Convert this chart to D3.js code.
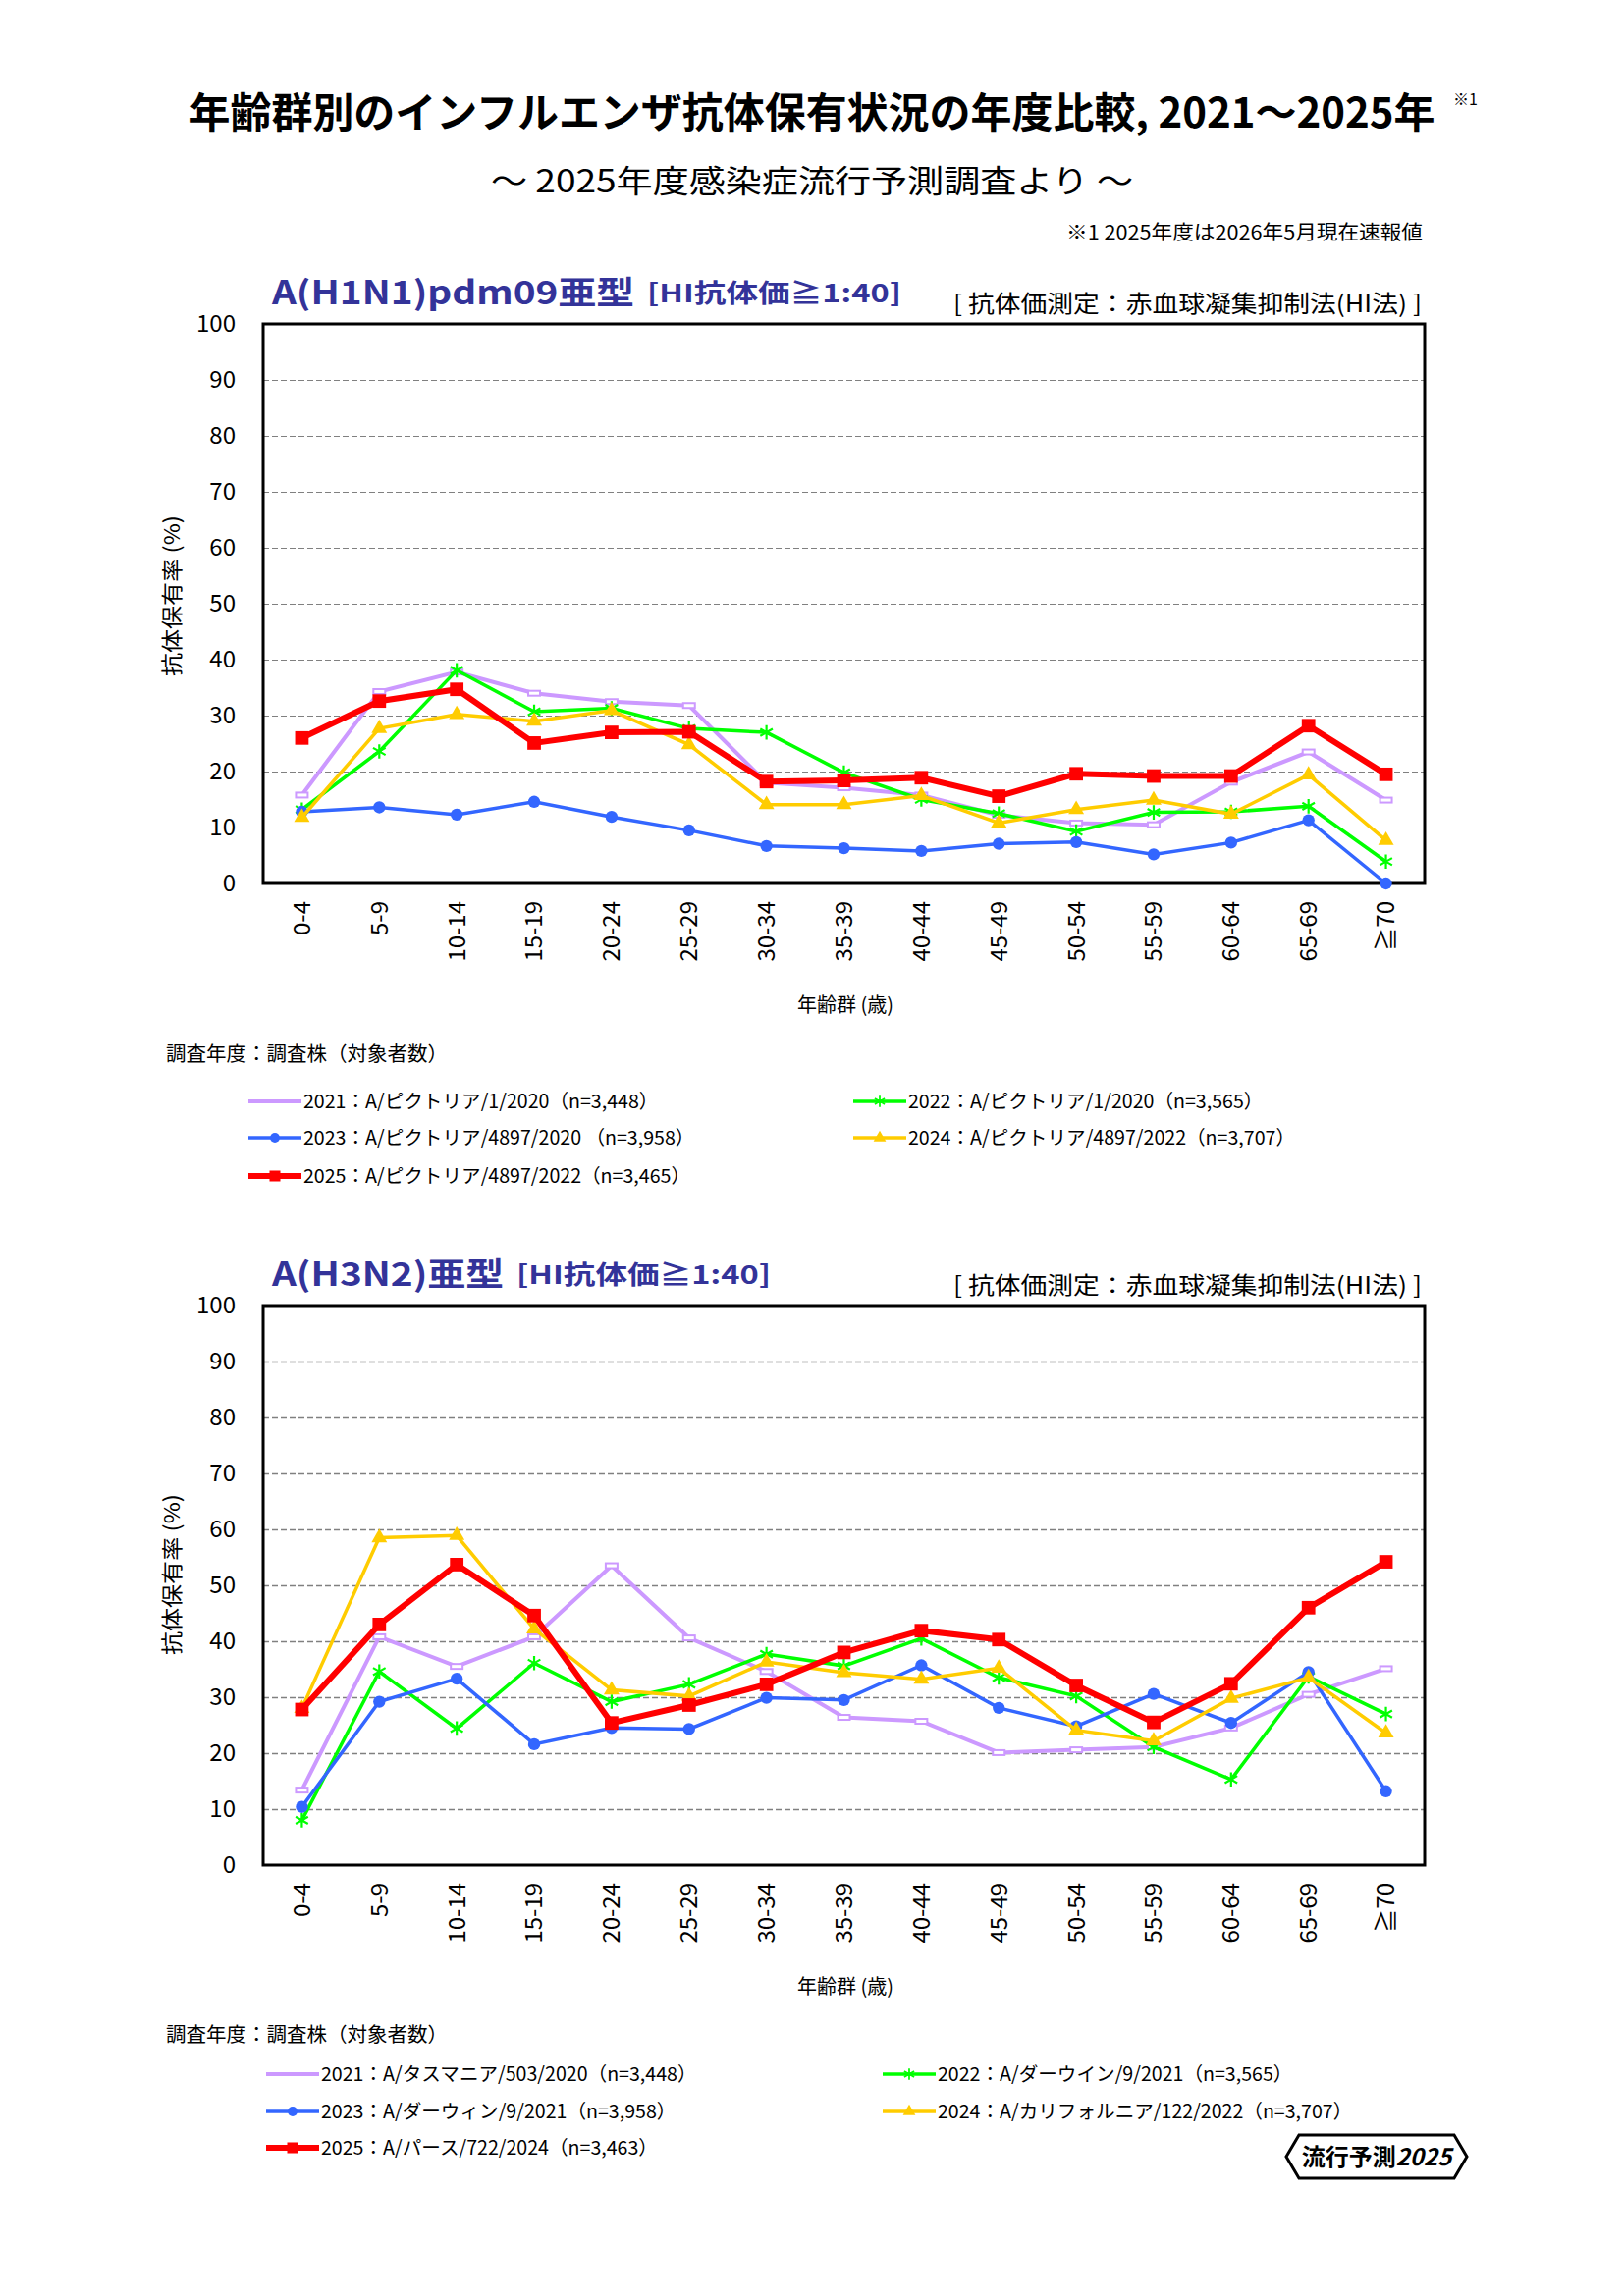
<!DOCTYPE html>
<html>
<head>
<meta charset="utf-8">
<script src="https://cdn.jsdelivr.net/npm/d3@7"></script>
<style>
  body { margin: 0; background: #fff; }
  text { font-family: "Noto Sans CJK JP", sans-serif; }
</style>
</head>
<body>
<div class="canvas"></div>
<script>
// age groups on the x axis
const categories = ["0-4","5-9","10-14","15-19","20-24","25-29","30-34","35-39","40-44","45-49","50-54","55-59","60-64","65-69","≧70"];
const yTicks = [0,10,20,30,40,50,60,70,80,90,100];

// A(H1N1)pdm09 antibody rates (%)
const h1_2021 = [15.8, 34.3, 37.8, 34.0, 32.5, 31.8, 18.0, 17.1, 15.8, 12.2, 10.8, 10.5, 18.1, 23.5, 14.9];
const h1_2022 = [13.2, 23.6, 38.1, 30.7, 31.3, 27.7, 27.0, 19.8, 15.0, 12.5, 9.3, 12.7, 12.8, 13.8, 3.9];
const h1_2023 = [12.8, 13.6, 12.3, 14.6, 11.9, 9.5, 6.7, 6.3, 5.8, 7.1, 7.4, 5.2, 7.3, 11.3, 0.0];
const h1_2024 = [11.8, 27.7, 30.2, 29.0, 30.9, 24.8, 14.1, 14.1, 15.7, 10.8, 13.2, 14.9, 12.4, 19.4, 7.7];
const h1_2025 = [26.0, 32.6, 34.7, 25.1, 27.0, 27.1, 18.2, 18.4, 18.9, 15.6, 19.6, 19.2, 19.2, 28.2, 19.5];

// A(H3N2) antibody rates (%)
const h3_2021 = [13.4, 40.8, 35.5, 40.8, 53.5, 40.6, 34.6, 26.4, 25.7, 20.1, 20.6, 21.1, 24.5, 30.5, 35.1];
const h3_2022 = [8.0, 34.6, 24.4, 36.1, 29.2, 32.3, 37.7, 35.6, 40.5, 33.5, 30.2, 21.1, 15.3, 33.7, 27.0];
const h3_2023 = [10.4, 29.2, 33.3, 21.6, 24.5, 24.3, 29.9, 29.5, 35.7, 28.1, 24.8, 30.6, 25.4, 34.5, 13.2];
const h3_2024 = [28.0, 58.5, 58.9, 42.2, 31.3, 30.2, 36.3, 34.4, 33.2, 35.2, 24.1, 22.2, 29.8, 33.5, 23.6];
const h3_2025 = [27.8, 43.0, 53.7, 44.6, 25.4, 28.6, 32.3, 38.0, 41.9, 40.3, 32.1, 25.5, 32.4, 46.0, 54.2];

// legend labels
const h1Legend = [
  "2021：A/ピクトリア/1/2020（n=3,448）",
  "2022：A/ピクトリア/1/2020（n=3,565）",
  "2023：A/ピクトリア/4897/2020 （n=3,958）",
  "2024：A/ピクトリア/4897/2022（n=3,707）",
  "2025：A/ピクトリア/4897/2022（n=3,465）"
];
const h3Legend = [
  "2021：A/タスマニア/503/2020（n=3,448）",
  "2022：A/ダーウイン/9/2021（n=3,565）",
  "2023：A/ダーウィン/9/2021（n=3,958）",
  "2024：A/カリフォルニア/122/2022（n=3,707）",
  "2025：A/パース/722/2024（n=3,463）"
];

// line look per year
const styles = [
  { color: "#CC99FF", width: 4,   marker: "bar" },
  { color: "#00FF00", width: 3.5, marker: "star" },
  { color: "#3366FF", width: 3.5, marker: "circle" },
  { color: "#FFCC00", width: 3.5, marker: "triangle" },
  { color: "#FF0000", width: 6,   marker: "square" }
];

const W = 1654, H = 2339;
const svg = d3.select('.canvas').append('svg')
  .attr('width', W).attr('height', H)
  .style('display', 'block');

// page header
svg.append('text')
  .attr('x', 827).attr('y', 130)
  .attr('text-anchor', 'middle')
  .attr('font-size', 42).attr('font-weight', 700)
  .attr('textLength', 1269).attr('lengthAdjust', 'spacingAndGlyphs')
  .text('年齢群別のインフルエンザ抗体保有状況の年度比較, 2021～2025年');
svg.append('text')
  .attr('x', 1480).attr('y', 107)
  .attr('font-size', 16)
  .text('※1');
svg.append('text')
  .attr('x', 827).attr('y', 196)
  .attr('text-anchor', 'middle')
  .attr('font-size', 32)
  .attr('textLength', 654).attr('lengthAdjust', 'spacingAndGlyphs')
  .text('～ 2025年度感染症流行予測調査より ～');
svg.append('text')
  .attr('x', 1449).attr('y', 244)
  .attr('text-anchor', 'end')
  .attr('font-size', 20)
  .attr('textLength', 363).attr('lengthAdjust', 'spacingAndGlyphs')
  .text('※1  2025年度は2026年5月現在速報値');

// draw a marker at (0,0) inside g
function marker(g, type, color) {
  if (type === 'bar') {
    g.append('rect').attr('x', -6).attr('y', -2.5).attr('width', 12).attr('height', 5)
      .attr('fill', '#fff').attr('stroke', color).attr('stroke-width', 2);
  } else if (type === 'star') {
    g.append('path').attr('d', d3.symbol(d3.symbolAsterisk, 150)())
      .attr('fill', 'none').attr('stroke', color).attr('stroke-width', 2.2);
  } else if (type === 'circle') {
    g.append('path').attr('d', d3.symbol(d3.symbolCircle, 120)()).attr('fill', color);
  } else if (type === 'triangle') {
    g.append('path').attr('d', d3.symbol(d3.symbolTriangle, 110)()).attr('fill', color);
  } else if (type === 'square') {
    g.append('path').attr('d', d3.symbol(d3.symbolSquare, 190)()).attr('fill', color);
  }
}

function drawChart(opt) {
  const left = 268, right = 1451;
  const top = opt.top, bottom = opt.top + 570;

  const x = d3.scaleBand().domain(categories).range([left, right]);
  const y = d3.scaleLinear().domain([0, 100]).range([bottom, top]);
  const cx = d => x(d) + x.bandwidth() / 2;

  // chart titles
  svg.append('text')
    .attr('x', 277).attr('y', top - 20)
    .attr('font-family', '"DejaVu Sans", "Noto Sans CJK JP"')
    .attr('font-size', 33).attr('font-weight', 700).attr('fill', '#333399')
    .attr('textLength', opt.nameLen).attr('lengthAdjust', 'spacingAndGlyphs')
    .text(opt.name);
  svg.append('text')
    .attr('x', opt.bracketX).attr('y', top - 22)
    .attr('font-family', '"DejaVu Sans", "Noto Sans CJK JP"')
    .attr('font-size', 26).attr('font-weight', 700).attr('fill', '#333399')
    .attr('textLength', 259).attr('lengthAdjust', 'spacingAndGlyphs')
    .text('[HI抗体価≧1:40]');
  svg.append('text')
    .attr('x', 1448).attr('y', top - 12)
    .attr('text-anchor', 'end')
    .attr('font-size', 24)
    .attr('textLength', 477).attr('lengthAdjust', 'spacingAndGlyphs')
    .text('[ 抗体価測定：赤血球凝集抑制法(HI法) ]');

  // grid lines
  const grid = svg.append('g').attr('transform', `translate(${left},0)`)
    .call(d3.axisLeft(y).tickValues(yTicks.slice(1, -1)).tickSize(-(right - left)).tickFormat(''));
  grid.select('.domain').remove();
  grid.selectAll('line')
    .attr('stroke', '#808080').attr('stroke-width', opt.gridW)
    .attr('stroke-dasharray', '6,3');

  // y tick labels
  const yAxis = svg.append('g').attr('transform', `translate(${left},0)`)
    .call(d3.axisLeft(y).tickValues(yTicks).tickSize(0).tickPadding(28));
  yAxis.select('.domain').remove();
  yAxis.selectAll('text')
    .attr('font-family', '"DejaVu Sans"').attr('font-size', 24).attr('fill', '#000');

  // x tick labels, rotated
  const xAxis = svg.append('g').attr('transform', `translate(0,${bottom})`)
    .call(d3.axisBottom(x).tickSize(0));
  xAxis.select('.domain').remove();
  xAxis.selectAll('text')
    .attr('font-family', '"DejaVu Sans", "Noto Sans CJK JP"').attr('font-size', 24).attr('fill', '#000')
    .attr('transform', 'rotate(-90)')
    .attr('x', -18).attr('y', 0).attr('dy', '0.35em')
    .attr('text-anchor', 'end');

  // frame
  svg.append('rect')
    .attr('x', left).attr('y', top)
    .attr('width', right - left).attr('height', bottom - top)
    .attr('fill', 'none').attr('stroke', '#000').attr('stroke-width', 3);

  // axis titles
  svg.append('text')
    .attr('transform', `translate(183,${(top + bottom) / 2 + opt.yTitleShift}) rotate(-90)`)
    .attr('text-anchor', 'middle').attr('font-size', 22)
    .attr('textLength', 164).attr('lengthAdjust', 'spacingAndGlyphs')
    .text('抗体保有率 (%)');
  svg.append('text')
    .attr('x', 861).attr('y', bottom + 131)
    .attr('text-anchor', 'middle').attr('font-size', 20)
    .text('年齢群 (歳)');

  // series
  const line = d3.line().x((d, i) => cx(categories[i])).y(d => y(d));
  opt.series.forEach((vals, s) => {
    const st = styles[s];
    svg.append('path')
      .attr('d', line(vals))
      .attr('fill', 'none')
      .attr('stroke', st.color).attr('stroke-width', st.width)
      .attr('stroke-linejoin', 'miter');
    vals.forEach((v, i) => {
      const g = svg.append('g').attr('transform', `translate(${cx(categories[i])},${y(v)})`);
      marker(g, st.marker, st.color);
    });
  });

  // legend
  svg.append('text')
    .attr('x', 169).attr('y', opt.legTop + 7)
    .attr('font-size', 20.5)
    .text('調査年度：調査株（対象者数）');
  opt.legend.forEach((label, i) => {
    const st = styles[i];
    const col = i % 2, row = Math.floor(i / 2);
    const lx = col === 0 ? opt.legCol1 : opt.legCol2;
    const ly = opt.legRows[row];
    svg.append('line')
      .attr('x1', lx).attr('x2', lx + 54)
      .attr('y1', ly).attr('y2', ly)
      .attr('stroke', st.color).attr('stroke-width', st.width);
    if (st.marker !== 'bar') {
      const g = svg.append('g').attr('transform', `translate(${lx + 27},${ly}) scale(0.8)`);
      marker(g, st.marker, st.color);
    }
    svg.append('text')
      .attr('x', lx + 56).attr('y', ly + 7)
      .attr('font-size', 19.6)
      .text(label);
  });
}

drawChart({
  top: 330,
  name: 'A(H1N1)pdm09亜型', nameLen: 369, bracketX: 659,
  gridW: 1, yTitleShift: -8,
  series: [h1_2021, h1_2022, h1_2023, h1_2024, h1_2025],
  legend: h1Legend,
  legTop: 1074, legRows: [1122, 1159, 1198], legCol1: 253, legCol2: 869
});

drawChart({
  top: 1330,
  name: 'A(H3N2)亜型', nameLen: 236, bracketX: 526,
  gridW: 1.6, yTitleShift: -11,
  series: [h3_2021, h3_2022, h3_2023, h3_2024, h3_2025],
  legend: h3Legend,
  legTop: 2073, legRows: [2113, 2151, 2188], legCol1: 271, legCol2: 899
});

// logo
svg.append('path')
  .attr('d', 'M1310,2197 L1323,2175 L1481,2175 L1494,2197 L1481,2219 L1323,2219 Z')
  .attr('fill', '#fff').attr('stroke', '#000').attr('stroke-width', 3);
const logo = svg.append('text')
  .attr('x', 1402).attr('y', 2206)
  .attr('text-anchor', 'middle')
  .attr('font-size', 24).attr('font-weight', 700);
logo.append('tspan').text('流行予測');
logo.append('tspan').attr('font-style', 'italic').text('2025');
</script>
</body>
</html>
